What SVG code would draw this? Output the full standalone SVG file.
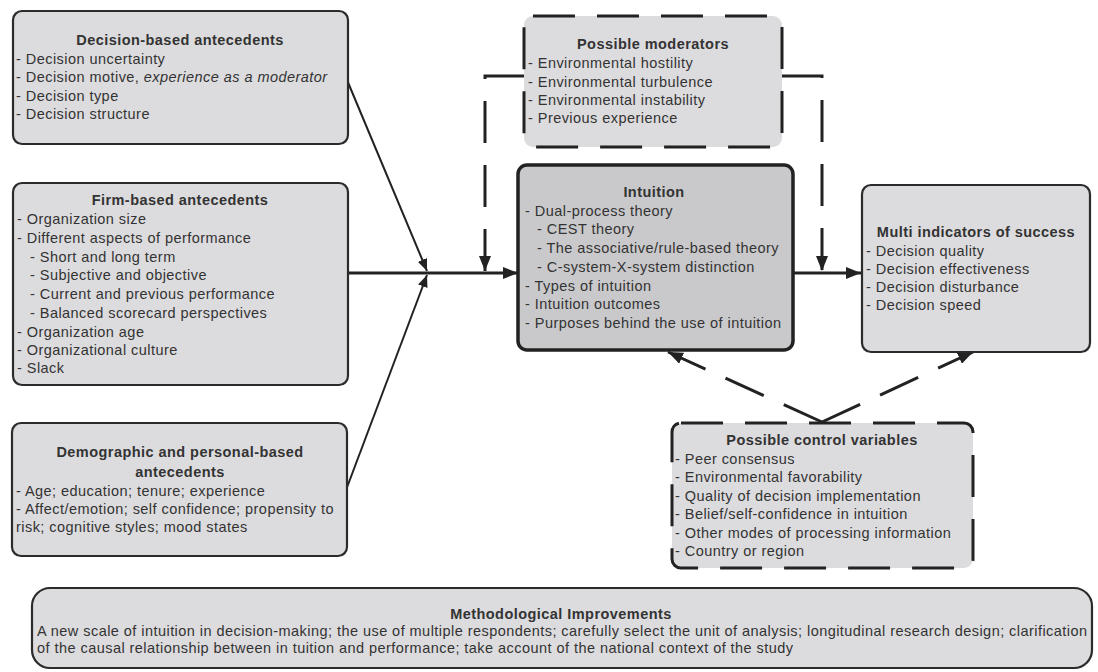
<svg xmlns="http://www.w3.org/2000/svg" width="1098" height="672" viewBox="0 0 1098 672">
  <style>
    text { font-family: "Liberation Sans", Arial, sans-serif; font-size: 14.5px; letter-spacing: 0.45px; fill: #333; }
    .title { font-weight: bold; text-anchor: middle; }
    .box { fill: #dcdcde; stroke: #2b2b2b; stroke-width: 2.2; }
    .core { fill: #c9c9cb; stroke: #222; stroke-width: 3.5; }
    .dbox { fill: #dcdcde; stroke: #222; stroke-width: 3; stroke-dasharray: 42 22; }
    .solid { fill: none; stroke: #222; stroke-width: 2; }
    .thick { fill: none; stroke: #222; stroke-width: 3; }
    .dashed { fill: none; stroke: #222; stroke-width: 3; stroke-dasharray: 42 22; }
  </style>
  <defs>
    <marker id="arrow" viewBox="0 0 12 10" refX="12" refY="5" markerWidth="12" markerHeight="10" markerUnits="userSpaceOnUse" orient="auto">
      <path d="M0,0 L12,5 L0,10 z" fill="#222"/>
    </marker>
    <marker id="arrowL" viewBox="0 0 15 12" refX="15" refY="6" markerWidth="15" markerHeight="12" markerUnits="userSpaceOnUse" orient="auto">
      <path d="M0,0 L15,6 L0,12 z" fill="#222"/>
    </marker>
  </defs>

  <!-- connectors -->
  <g id="connectors">
    <line class="solid" x1="347" y1="80" x2="427" y2="271" marker-end="url(#arrow)"/>
    <line class="solid" x1="346" y1="490" x2="427" y2="275" marker-end="url(#arrow)"/>
    <line class="thick" x1="348" y1="273" x2="518" y2="273" marker-end="url(#arrowL)"/>
    <path class="dashed" d="M524,76 H485 V271" marker-end="url(#arrowL)"/>
    <path class="dashed" d="M782,76 H822 V271" marker-end="url(#arrowL)"/>
    <line class="thick" x1="793" y1="273" x2="861" y2="273" marker-end="url(#arrowL)"/>
    <line class="dashed" x1="822" y1="422" x2="668" y2="352" marker-end="url(#arrowL)"/>
    <line class="dashed" x1="822" y1="422" x2="973" y2="352" marker-end="url(#arrowL)"/>
  </g>

  <!-- decision-based antecedents -->
  <g id="decision">
    <rect class="box" x="13" y="11" width="335" height="133" rx="9"/>
    <text class="title" x="180" y="45">Decision-based antecedents</text>
    <text x="16" y="64">- Decision uncertainty</text>
    <text x="16" y="82">- Decision motive, <tspan font-style="italic">experience as a moderator</tspan></text>
    <text x="16" y="101">- Decision type</text>
    <text x="16" y="119">- Decision structure</text>
  </g>

  <!-- firm-based antecedents -->
  <g id="firm">
    <rect class="box" x="13" y="183" width="335" height="202" rx="9"/>
    <text class="title" x="180" y="205">Firm-based antecedents</text>
    <text x="17" y="224">- Organization size</text>
    <text x="17" y="243">- Different aspects of performance</text>
    <text x="30" y="262">- Short and long term</text>
    <text x="30" y="280">- Subjective and objective</text>
    <text x="30" y="299">- Current and previous performance</text>
    <text x="30" y="318">- Balanced scorecard perspectives</text>
    <text x="17" y="337">- Organization age</text>
    <text x="17" y="355">- Organizational culture</text>
    <text x="17" y="373">- Slack</text>
  </g>

  <!-- demographic and personal-based antecedents -->
  <g id="demographic">
    <rect class="box" x="12" y="423" width="335" height="133" rx="9"/>
    <text class="title" x="180" y="457">Demographic and personal-based</text>
    <text class="title" x="180" y="477">antecedents</text>
    <text x="16" y="496">- Age; education; tenure; experience</text>
    <text x="16" y="514">- Affect/emotion; self confidence; propensity to</text>
    <text x="16" y="532">risk; cognitive styles; mood states</text>
  </g>

  <!-- possible moderators -->
  <g id="moderators">
    <rect class="dbox" x="524" y="16" width="258" height="131" rx="9"/>
    <text class="title" x="653" y="49">Possible moderators</text>
    <text x="528" y="68">- Environmental hostility</text>
    <text x="528" y="87">- Environmental turbulence</text>
    <text x="528" y="105">- Environmental instability</text>
    <text x="528" y="123">- Previous experience</text>
  </g>

  <!-- intuition -->
  <g id="intuition">
    <rect class="core" x="518" y="165" width="275" height="185" rx="9"/>
    <text class="title" x="654" y="197">Intuition</text>
    <text x="525" y="216">- Dual-process theory</text>
    <text x="537" y="234">- CEST theory</text>
    <text x="537" y="253">- The associative/rule-based theory</text>
    <text x="537" y="272">- C-system-X-system distinction</text>
    <text x="525" y="291">- Types of intuition</text>
    <text x="525" y="309">- Intuition outcomes</text>
    <text x="525" y="328">- Purposes behind the use of intuition</text>
  </g>

  <!-- multi indicators of success -->
  <g id="success">
    <rect class="box" x="862" y="185" width="228" height="167" rx="9"/>
    <text class="title" x="976" y="237">Multi indicators of success</text>
    <text x="866" y="256">- Decision quality</text>
    <text x="866" y="274">- Decision effectiveness</text>
    <text x="866" y="292">- Decision disturbance</text>
    <text x="866" y="310">- Decision speed</text>
  </g>

  <!-- possible control variables -->
  <g id="controls">
    <rect class="dbox" x="672" y="423" width="301" height="145" rx="9"/>
    <text class="title" x="822" y="445">Possible control variables</text>
    <text x="675" y="464">- Peer consensus</text>
    <text x="675" y="482">- Environmental favorability</text>
    <text x="675" y="501">- Quality of decision implementation</text>
    <text x="675" y="519">- Belief/self-confidence in intuition</text>
    <text x="675" y="538">- Other modes of processing information</text>
    <text x="675" y="556">- Country or region</text>
  </g>

  <!-- methodological improvements -->
  <g id="methods">
    <rect class="box" x="32" y="588" width="1060" height="80" rx="18"/>
    <text class="title" x="561" y="619">Methodological Improvements</text>
    <text x="37" y="636">A new scale of intuition in decision-making; the use of multiple respondents; carefully select the unit of analysis; longitudinal research design; clarification</text>
    <text x="37" y="653">of the causal relationship between in tuition and performance; take account of the national context of the study</text>
  </g>
</svg>
